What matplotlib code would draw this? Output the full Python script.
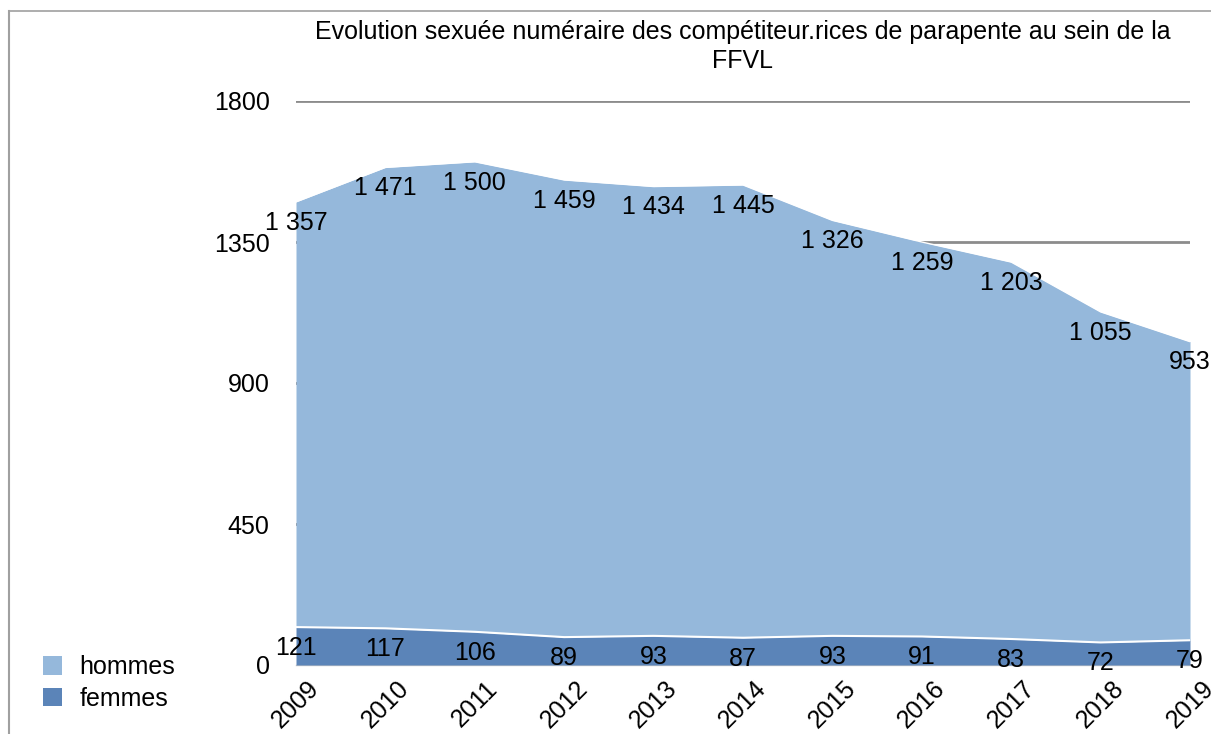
import matplotlib as mpl
import matplotlib.pyplot as plt
from matplotlib.patches import Patch
from matplotlib.lines import Line2D

mpl.rcParams["font.family"] = ["Liberation Sans", "DejaVu Sans"]
mpl.rcParams["font.size"] = 18

# Data
years = [2009, 2010, 2011, 2012, 2013, 2014, 2015, 2016, 2017, 2018, 2019]
hommes = [1357, 1471, 1500, 1459, 1434, 1445, 1326, 1259, 1203, 1055, 953]
femmes = [121, 117, 106, 89, 93, 87, 93, 91, 83, 72, 79]
y_ticks = [0, 450, 900, 1350, 1800]
title = ("Evolution sexuée numéraire des compétiteur.rices de parapente au sein de la\n"
         "FFVL")

col_h = "#95b8db"
col_f = "#5b84b8"

fig = plt.figure(figsize=(12.11, 7.34), dpi=100)
ax = fig.add_axes([296 / 1211, 1 - 665 / 734, (1190 - 296) / 1211, (665 - 101) / 734])

total = [h + f for h, f in zip(hommes, femmes)]

ax.fill_between(years, 0, femmes, color=col_f, lw=0, zorder=2)
ax.fill_between(years, femmes, total, color=col_h, lw=0, zorder=2)
ax.plot(years, femmes, color="white", lw=1.5, zorder=3)
ax.plot(years, total, color="white", lw=1, zorder=3)

for y in y_ticks[1:]:
    ax.axhline(y, color="#8c8c8c", lw=2, zorder=1)


def fmt(v):
    return f"{v:,}".replace(",", " ")


for x, top, h in zip(years, total, hommes):
    ax.annotate(fmt(h), (x, top), xytext=(0, -15), textcoords="offset points",
                ha="center", va="center", zorder=4, annotation_clip=False)
for x, f in zip(years, femmes):
    ax.annotate(fmt(f), (x, f), xytext=(0, -15), textcoords="offset points",
                ha="center", va="center", zorder=4, annotation_clip=False)

ax.set_xlim(years[0], years[-1])
ax.set_ylim(0, 1800)
ax.set_yticks(y_ticks)
ax.set_yticklabels([str(t) for t in y_ticks])
ax.set_xticks(years)
ax.set_xticklabels([str(y) for y in years], rotation=45, ha="center", va="top")
ax.tick_params(axis="y", length=0, pad=19)
ax.tick_params(axis="x", length=0, pad=8)

for s in ["top", "right", "left"]:
    ax.spines[s].set_visible(False)
ax.spines["bottom"].set_color("#c8c8c8")
ax.spines["bottom"].set_linewidth(1)
ax.spines["bottom"].set_zorder(1)

ax.set_title(title, pad=24, linespacing=1.25, fontsize=18)

# legend
handles = [Patch(facecolor=col_h, edgecolor="none", label="hommes"),
           Patch(facecolor=col_f, edgecolor="none", label="femmes")]
fig.legend(handles=handles, loc="center left", bbox_to_anchor=(33 / 1211, 1 - 683 / 734),
           frameon=False, handlelength=0.75, handleheight=0.75, handletextpad=0.7,
           labelspacing=0.3, fontsize=18, borderaxespad=0, borderpad=0.4)

# figure frame (left and top edges)
fig.add_artist(Line2D([9 / 1211, 9 / 1211], [0, 1 - 11 / 734], color="#a0a0a0", lw=1.5))
fig.add_artist(Line2D([9 / 1211, 1], [1 - 11 / 734, 1 - 11 / 734], color="#a0a0a0", lw=1.2))

fig.savefig("out.png", dpi=100)
